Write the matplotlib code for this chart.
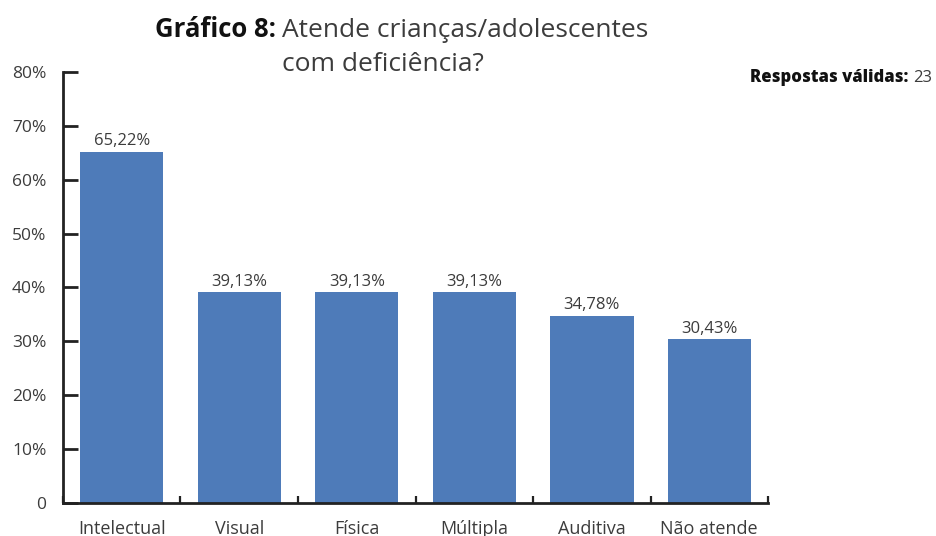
import matplotlib
matplotlib.use("Agg")
import matplotlib.pyplot as plt
import numpy as np

categories = ["Intelectual", "Visual", "Física", "Múltipla", "Auditiva", "Não atende"]
percentages = [65.22, 39.13, 39.13, 39.13, 34.78, 30.43]
y_ticks = [0, 10, 20, 30, 40, 50, 60, 70, 80]
y_tick_labels = ["0", "10%", "20%", "30%", "40%", "50%", "60%", "70%", "80%"]
valid_answers = 23

plt.rcParams["font.family"] = ["Open Sans", "DejaVu Sans"]

bar_color = "#4e7bb9"
text_color = "#3c3c3c"

fig = plt.figure(figsize=(9.37, 5.36), dpi=100)
ax = fig.add_axes([0.0672, 0.0616, 0.7525, 0.8041])

x = np.arange(len(categories))
ax.bar(x, percentages, width=0.71, color=bar_color, zorder=2)

for xi, v in zip(x, percentages):
    ax.text(xi, v + 0.4, f"{v:.2f}%".replace(".", ","), ha="center", va="bottom",
            fontsize=12, color=text_color)

ax.set_xlim(-0.5, len(categories) - 0.5)
ax.set_ylim(0, 80)

ax.set_yticks(y_ticks)
ax.set_yticklabels(y_tick_labels, fontsize=12.5, color=text_color)
ax.tick_params(axis="y", direction="in", length=11, width=2, color="#222222", pad=12)

ax.set_xticks(x)
ax.set_xticklabels(categories, fontsize=13, color=text_color)
ax.set_xticks(np.arange(-0.5, len(categories)), minor=True)
ax.tick_params(axis="x", which="major", length=0, pad=12)
ax.tick_params(axis="x", which="minor", direction="in", length=5, width=1.6, color="#222222")

for side in ["top", "right"]:
    ax.spines[side].set_visible(False)
for side in ["left", "bottom"]:
    ax.spines[side].set_linewidth(2)
    ax.spines[side].set_color("#222222")

# title: bold prefix followed by the question, second line aligned under the question
prefix = fig.text(0.165, 0.931, "Gráfico 8:", fontsize=18.5, fontweight="bold",
                  color="#111111", ha="left", va="baseline")
question = fig.text(0, 0, "Atende crianças/adolescentes", fontsize=19, color=text_color,
                    ha="left", va="baseline")
fig.canvas.draw()
renderer = fig.canvas.get_renderer()
pb = prefix.get_window_extent(renderer).transformed(fig.transFigure.inverted())
question.set_position((pb.x1 + 0.007, 0.931))
fig.text(pb.x1 + 0.007, 0.868, "com deficiência?", fontsize=19, color=text_color,
         ha="left", va="baseline")

label = fig.text(0.8005, 0.847, "Respostas válidas:", fontsize=12, fontweight="heavy",
                 color="#111111", ha="left", va="baseline")
lb = label.get_window_extent(renderer).transformed(fig.transFigure.inverted())
fig.text(lb.x1 + 0.005, 0.847, str(valid_answers), fontsize=12, color=text_color,
         ha="left", va="baseline")

fig.savefig("out.png", dpi=100)
